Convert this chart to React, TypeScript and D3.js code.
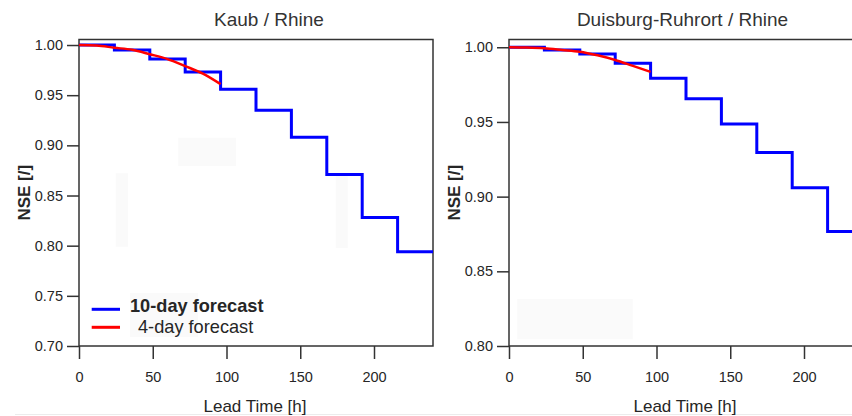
import React, { useEffect, useRef } from "react";
import * as d3 from "d3";

// lead times (h) of the daily steps
const stepHours = [0, 24, 48, 72, 96, 120, 144, 168, 192, 216, 240];
// support points of the short range run
const shortHours = [0, 12, 24, 36, 48, 60, 72, 84, 96];
const xTicks = [0, 50, 100, 150, 200];

// Kaub / Rhine
const kaub10 = [1.0, 0.995, 0.986, 0.973, 0.956, 0.935, 0.908, 0.871, 0.828, 0.794];
const kaub4 = [1.0, 0.9995, 0.9973, 0.9952, 0.9908, 0.986, 0.979, 0.9715, 0.961];
const kaubTicks = [0.7, 0.75, 0.8, 0.85, 0.9, 0.95, 1.0];

// Duisburg-Ruhrort / Rhine
const duis10 = [1.0, 0.9982, 0.9955, 0.9893, 0.9792, 0.9656, 0.9487, 0.9295, 0.906, 0.8766];
const duis4 = [1.0, 0.9998, 0.9993, 0.9982, 0.997, 0.9946, 0.9915, 0.9875, 0.9835];
const duisTicks = [0.8, 0.85, 0.9, 0.95, 1.0];

const FONT = "'Liberation Sans', Arial, Helvetica, sans-serif";
const INK = "#262626";

const Panel = ({ svgSel, left, title, titleX, yDomain, yTicks, long, short, legend, patches }) => {
  const top = 39.5;
  const bottom = 346;
  const x = d3.scaleLinear().domain([0, 240]).range([left, left + 354]);
  const y = d3.scaleLinear().domain(yDomain).range([bottom, top]);

  const g = svgSel.append("g");

  // faint leftover patches in the picture
  patches.forEach(p => {
    g.append("rect")
      .attr("x", p[0]).attr("y", p[1]).attr("width", p[2]).attr("height", p[3])
      .attr("fill", "#fafafa");
  });

  // box
  g.append("rect")
    .attr("x", x(0)).attr("y", top)
    .attr("width", x(240) - x(0)).attr("height", bottom - top)
    .attr("fill", "none").attr("stroke", "#333").attr("stroke-width", 1.5);

  const yAxis = g.append("g")
    .attr("transform", `translate(${x(0)},0)`)
    .call(d3.axisLeft(y).tickValues(yTicks).tickSize(12).tickSizeOuter(0).tickPadding(4).tickFormat(d3.format(".2f")));
  yAxis.select(".domain").remove();

  const xAxis = g.append("g")
    .attr("transform", `translate(0,${bottom})`)
    .call(d3.axisBottom(x).tickValues(xTicks).tickSize(13).tickSizeOuter(0).tickPadding(13));
  xAxis.select(".domain").remove();

  [yAxis, xAxis].forEach(a => {
    a.selectAll("line").attr("stroke", "#333").attr("stroke-width", 1.5);
    a.selectAll("text").attr("fill", INK).style("font-family", FONT).style("font-size", "14.5px");
  });

  // 10-day forecast as daily steps
  const stepPts = stepHours.map((h, i) => [h, long[Math.min(i, long.length - 1)]]);
  const stepLine = d3.line().x(d => x(d[0])).y(d => y(d[1])).curve(d3.curveStepAfter);
  g.append("path")
    .attr("d", stepLine(stepPts))
    .attr("fill", "none").attr("stroke", "#0000ff").attr("stroke-width", 3);

  // 4-day forecast
  const shortLine = d3.line().x((d, i) => x(shortHours[i])).y(d => y(d)).curve(d3.curveMonotoneX);
  g.append("path")
    .attr("d", shortLine(short))
    .attr("fill", "none").attr("stroke", "#ff0000").attr("stroke-width", 2.5);

  // titles
  g.append("text")
    .attr("x", titleX).attr("y", 26)
    .attr("text-anchor", "middle")
    .style("font-family", FONT).style("font-size", "19px").attr("fill", "#333")
    .text(title);

  g.append("text")
    .attr("x", left + 176).attr("y", 411.5)
    .attr("text-anchor", "middle")
    .style("font-family", FONT).style("font-size", "17px").attr("fill", INK)
    .text("Lead Time [h]");

  g.append("text")
    .attr("transform", `translate(${left - 49},${(top + bottom) / 2}) rotate(-90)`)
    .attr("text-anchor", "middle")
    .style("font-family", FONT).style("font-size", "17px").style("font-weight", "bold").attr("fill", INK)
    .text("NSE [/]");

  if (legend) {
    g.append("rect")
      .attr("x", 130).attr("y", 293).attr("width", 68).attr("height", 44)
      .attr("fill", "#fafafa");
    const items = [
      { label: "10-day forecast", color: "#0000ff", bold: true, ly: 309.3, ty: 311.7, tx: 130 },
      { label: "4-day forecast", color: "#ff0000", bold: false, ly: 327.3, ty: 332.7, tx: 138 },
    ];
    items.forEach(it => {
      g.append("line")
        .attr("x1", 91.7).attr("x2", 120).attr("y1", it.ly).attr("y2", it.ly)
        .attr("stroke", it.color).attr("stroke-width", 3);
      g.append("text")
        .attr("x", it.tx).attr("y", it.ty)
        .style("font-family", FONT).style("font-size", "18.2px")
        .style("font-weight", it.bold ? "bold" : "normal").attr("fill", INK)
        .text(it.label);
    });
  }
};

const App = () => {
  const ref = useRef(null);

  useEffect(() => {
    const svg = d3.select(ref.current);
    svg.selectAll("*").remove();

    svg.append("line")
      .attr("x1", 15).attr("x2", 852).attr("y1", 414.5).attr("y2", 414.5)
      .attr("stroke", "#ececec").attr("stroke-width", 1);

    Panel({
      svgSel: svg, left: 79, title: "Kaub / Rhine", titleX: 269,
      yDomain: [0.7, 1.0055], yTicks: kaubTicks, long: kaub10, short: kaub4, legend: true,
      patches: [[178.3, 137.7, 57.7, 28.3], [115.7, 173.3, 12.3, 73.4], [335.7, 175, 12, 73]],
    });
    Panel({
      svgSel: svg, left: 509, title: "Duisburg-Ruhrort / Rhine", titleX: 682.5,
      yDomain: [0.8, 1.0052], yTicks: duisTicks, long: duis10, short: duis4, legend: false,
      patches: [[517.3, 299, 115.4, 40.3]],
    });
  }, []);

  return (
    <svg ref={ref} width={852} height={416}
      style={{ position: "absolute", left: 0, top: 0, background: "#fff" }} />
  );
};

export default App;
